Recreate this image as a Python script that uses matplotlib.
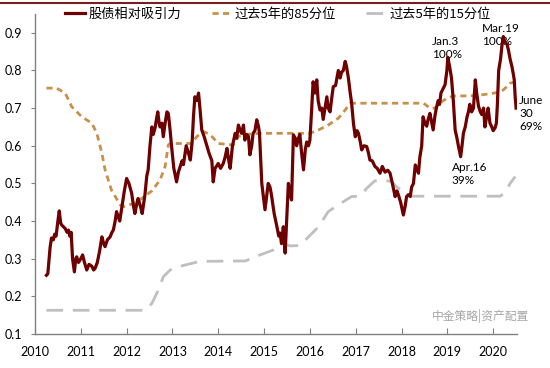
import numpy as np
import matplotlib
matplotlib.use("Agg")
import matplotlib.pyplot as plt
from matplotlib.lines import Line2D

plt.rcParams['font.family'] = ['Lato', 'Noto Sans CJK SC', 'DejaVu Sans']

# 股债相对吸引力 (date as decimal year, value)
attr_t = [
    2010.25, 2010.28, 2010.33, 2010.36, 2010.40, 2010.43, 2010.46, 2010.50, 2010.53, 2010.56,
    2010.58, 2010.62, 2010.66, 2010.70, 2010.73, 2010.76, 2010.79, 2010.82, 2010.86, 2010.89,
    2010.91, 2010.95, 2011.00, 2011.04, 2011.08, 2011.13, 2011.18, 2011.24, 2011.28, 2011.31,
    2011.36, 2011.41, 2011.46, 2011.50, 2011.53, 2011.58, 2011.64, 2011.68, 2011.71, 2011.75,
    2011.78, 2011.82, 2011.85, 2011.90, 2011.95, 2012.00, 2012.05, 2012.11, 2012.15, 2012.18,
    2012.22, 2012.25, 2012.30, 2012.34, 2012.40, 2012.44, 2012.47, 2012.51, 2012.55, 2012.58,
    2012.62, 2012.65, 2012.68, 2012.71, 2012.73, 2012.77, 2012.80, 2012.84, 2012.88, 2012.91,
    2012.95, 2012.98, 2013.03, 2013.09, 2013.13, 2013.17, 2013.21, 2013.24, 2013.30, 2013.35,
    2013.39, 2013.43, 2013.46, 2013.49, 2013.53, 2013.57, 2013.60, 2013.64, 2013.69, 2013.75,
    2013.80, 2013.86, 2013.89, 2013.93, 2014.00, 2014.05, 2014.11, 2014.15, 2014.19, 2014.23,
    2014.26, 2014.31, 2014.37, 2014.40, 2014.44, 2014.48, 2014.51, 2014.55, 2014.58, 2014.62,
    2014.66, 2014.69, 2014.73, 2014.76, 2014.80, 2014.84, 2014.88, 2014.90, 2014.95, 2015.02,
    2015.06, 2015.09, 2015.13, 2015.16, 2015.22, 2015.28, 2015.32, 2015.35, 2015.38, 2015.42,
    2015.46, 2015.50, 2015.53, 2015.57, 2015.60, 2015.64, 2015.68, 2015.71, 2015.75, 2015.78,
    2015.82, 2015.86, 2015.90, 2015.93, 2015.97, 2016.00, 2016.04, 2016.07, 2016.11, 2016.15,
    2016.18, 2016.22, 2016.26, 2016.29, 2016.33, 2016.37, 2016.40, 2016.44, 2016.48, 2016.51,
    2016.56, 2016.62, 2016.66, 2016.69, 2016.73, 2016.77, 2016.80, 2016.84, 2016.88, 2016.91,
    2016.95, 2016.99, 2017.03, 2017.06, 2017.10, 2017.13, 2017.18, 2017.24, 2017.28, 2017.31,
    2017.36, 2017.42, 2017.47, 2017.53, 2017.58, 2017.64, 2017.70, 2017.75, 2017.80, 2017.86,
    2017.90, 2017.93, 2017.98, 2018.04, 2018.08, 2018.11, 2018.15, 2018.19, 2018.22, 2018.26,
    2018.30, 2018.33, 2018.37, 2018.40, 2018.44, 2018.47, 2018.51, 2018.55, 2018.58, 2018.62,
    2018.66, 2018.69, 2018.73, 2018.76, 2018.80, 2018.83, 2018.86, 2018.90, 2018.95, 2018.99,
    2019.01, 2019.05, 2019.09, 2019.13, 2019.17, 2019.21, 2019.24, 2019.29, 2019.32, 2019.35,
    2019.39, 2019.43, 2019.46, 2019.49, 2019.53, 2019.57, 2019.61, 2019.64, 2019.68, 2019.72,
    2019.75, 2019.79, 2019.82, 2019.86, 2019.89, 2019.93, 2019.97, 2020.00, 2020.04, 2020.07,
    2020.09, 2020.12, 2020.16, 2020.19, 2020.22, 2020.26, 2020.30, 2020.33, 2020.37, 2020.41,
    2020.44, 2020.46, 2020.48, 2020.50,
]
attr_v = [
    0.256, 0.260, 0.330, 0.355, 0.350, 0.365, 0.360, 0.400, 0.427, 0.395,
    0.390, 0.385, 0.380, 0.370, 0.376, 0.360, 0.370, 0.300, 0.265, 0.300,
    0.305, 0.290, 0.300, 0.310, 0.290, 0.270, 0.285, 0.280, 0.270, 0.274,
    0.290, 0.320, 0.358, 0.340, 0.332, 0.350, 0.358, 0.370, 0.376, 0.400,
    0.425, 0.410, 0.400, 0.440, 0.480, 0.513, 0.500, 0.474, 0.440, 0.420,
    0.445, 0.460, 0.440, 0.420, 0.470, 0.520, 0.536, 0.600, 0.650, 0.630,
    0.647, 0.670, 0.690, 0.660, 0.650, 0.660, 0.624, 0.660, 0.690, 0.686,
    0.640, 0.600, 0.540, 0.504, 0.530, 0.545, 0.560, 0.550, 0.600, 0.580,
    0.562, 0.610, 0.680, 0.730, 0.720, 0.740, 0.700, 0.642, 0.625, 0.600,
    0.580, 0.560, 0.504, 0.540, 0.553, 0.540, 0.553, 0.570, 0.593, 0.560,
    0.540, 0.600, 0.633, 0.620, 0.655, 0.640, 0.633, 0.655, 0.615, 0.630,
    0.624, 0.576, 0.600, 0.633, 0.640, 0.669, 0.650, 0.633, 0.500, 0.430,
    0.470, 0.500, 0.490, 0.470, 0.420, 0.385, 0.360, 0.368, 0.340, 0.385,
    0.315, 0.420, 0.500, 0.470, 0.456, 0.629, 0.620, 0.600, 0.620, 0.630,
    0.580, 0.536, 0.590, 0.610, 0.600, 0.615, 0.700, 0.770, 0.740, 0.775,
    0.720, 0.695, 0.700, 0.670, 0.700, 0.730, 0.700, 0.690, 0.730, 0.757,
    0.760, 0.800, 0.780, 0.795, 0.800, 0.824, 0.810, 0.780, 0.740, 0.714,
    0.660, 0.624, 0.640, 0.633, 0.610, 0.589, 0.600, 0.598, 0.580, 0.562,
    0.560, 0.545, 0.540, 0.527, 0.545, 0.530, 0.535, 0.527, 0.500, 0.465,
    0.480, 0.470, 0.450, 0.416, 0.440, 0.465, 0.470, 0.465, 0.490, 0.500,
    0.549, 0.540, 0.527, 0.570, 0.600, 0.677, 0.660, 0.652, 0.670, 0.686,
    0.660, 0.642, 0.680, 0.700, 0.720, 0.710, 0.740, 0.750, 0.762, 0.800,
    0.835, 0.810, 0.780, 0.720, 0.642, 0.620, 0.600, 0.571, 0.600, 0.633,
    0.650, 0.677, 0.690, 0.710, 0.690, 0.700, 0.775, 0.740, 0.705, 0.690,
    0.683, 0.700, 0.650, 0.680, 0.700, 0.660, 0.650, 0.640, 0.647, 0.660,
    0.705, 0.800, 0.830, 0.864, 0.890, 0.875, 0.870, 0.856, 0.830, 0.810,
    0.790, 0.775, 0.730, 0.700,
]

# 过去5年的85分位
p85_t = [2010.25, 2010.47, 2010.66, 2010.80, 2011.02, 2011.24, 2011.35, 2011.46, 2011.53, 2011.67,
         2011.86, 2011.93, 2012.11, 2012.33, 2012.55, 2012.73, 2012.84, 2012.91, 2012.95, 2013.42,
         2013.53, 2013.67, 2013.82, 2014.00, 2014.33, 2014.44, 2014.62, 2014.91, 2016.00, 2016.19,
         2016.40, 2016.62, 2016.77, 2016.88, 2018.48, 2018.62, 2018.73, 2018.84, 2018.99, 2019.13,
         2019.63, 2020.08, 2020.22, 2020.37, 2020.48]
p85_v = [0.753, 0.753, 0.740, 0.704, 0.677, 0.660, 0.633, 0.580, 0.536, 0.482,
         0.443, 0.438, 0.445, 0.460, 0.480, 0.509, 0.545, 0.602, 0.606, 0.606,
         0.624, 0.638, 0.630, 0.606, 0.602, 0.625, 0.630, 0.633, 0.633, 0.642,
         0.655, 0.673, 0.695, 0.713, 0.713, 0.700, 0.700, 0.714, 0.726, 0.732,
         0.733, 0.741, 0.748, 0.766, 0.770]

# 过去5年的15分位
p15_t = [2010.25, 2012.40, 2012.55, 2012.69, 2012.80, 2012.95, 2013.17, 2013.60, 2014.59, 2014.91,
         2015.20, 2015.42, 2015.57, 2015.78, 2015.97, 2016.19, 2016.40, 2016.62, 2016.91, 2017.09,
         2017.24, 2017.42, 2017.64, 2017.78, 2017.90, 2018.15, 2018.19, 2020.15, 2020.26, 2020.37,
         2020.48]
p15_v = [0.163, 0.163, 0.181, 0.216, 0.252, 0.270, 0.280, 0.293, 0.294, 0.310,
         0.323, 0.340, 0.334, 0.335, 0.358, 0.385, 0.425, 0.443, 0.465, 0.466,
         0.487, 0.507, 0.508, 0.505, 0.490, 0.470, 0.466, 0.466, 0.475, 0.500,
         0.518]

years = list(range(2010, 2021))
yticks = [0.1, 0.2, 0.3, 0.4, 0.5, 0.6, 0.7, 0.8, 0.9]

fig = plt.figure(figsize=(5.5, 3.68), dpi=100)
ax = fig.add_axes([0.0636, 0.0924, 0.8764, 0.8696])

ax.plot(p15_t, p15_v, color='#BFBFBF', lw=2.0, dashes=(6, 3.5), label='过去5年的15分位', zorder=2)
ax.plot(p85_t, p85_v, color='#C8904A', lw=2.0, dashes=(2.2, 1.6), label='过去5年的85分位', zorder=3)
ax.plot(attr_t, attr_v, color='#6E0000', lw=2.3, label='股债相对吸引力', zorder=4)

ax.set_xlim(2010.0, 2020.52)
ax.set_ylim(0.1, 0.95)
ax.set_xticks(years)
ax.set_xticklabels([str(y) for y in years])
ax.set_yticks(yticks)
ax.set_yticklabels([f'{v:.1f}' for v in yticks])

for s in ['top', 'right']:
    ax.spines[s].set_visible(False)
for s in ['left', 'bottom']:
    ax.spines[s].set_color('#808080')
    ax.spines[s].set_linewidth(1.0)
ax.tick_params(axis='x', direction='in', length=4, color='#808080', pad=9, labelsize=9, labelcolor='#000000')
ax.tick_params(axis='y', direction='out', length=3, color='#808080', pad=6, labelsize=9, labelcolor='#000000')

handles, labels = ax.get_legend_handles_labels()
order = [2, 1, 0]
ax.legend([handles[i] for i in order], [labels[i] for i in order], ncol=3, frameon=False,
          loc='upper left', bbox_to_anchor=(0.052, 1.035), handlelength=1.5,
          handletextpad=0.25, columnspacing=2.3, borderaxespad=0,
          prop={'family': ['Noto Sans CJK SC', 'DejaVu Sans'], 'size': 9.5})

ann_style = dict(fontsize=8.5, color='#000000', linespacing=1.2)
ax.text(2018.67, 0.828, 'Jan.3\n100%', ha='left', va='bottom', **ann_style)
ax.text(2019.75, 0.862, 'Mar.19\n100%', ha='left', va='bottom', **ann_style)
ax.text(2019.10, 0.557, 'Apr.16\n39%', ha='left', va='top', **ann_style)
ax.text(2020.57, 0.735, 'June\n30\n69%', ha='left', va='top', **ann_style)

ax.text(1.025, 0.055, '中金策略|资产配置', transform=ax.transAxes, ha='right', va='center',
        fontsize=8.5, color='#A6A6A6', family=['Noto Sans CJK SC', 'DejaVu Sans'])

fig.add_artist(Line2D([0, 1], [0.992, 0.992], color='#7A1F1F', lw=1.5, transform=fig.transFigure))

fig.savefig('out.png', dpi=100)
